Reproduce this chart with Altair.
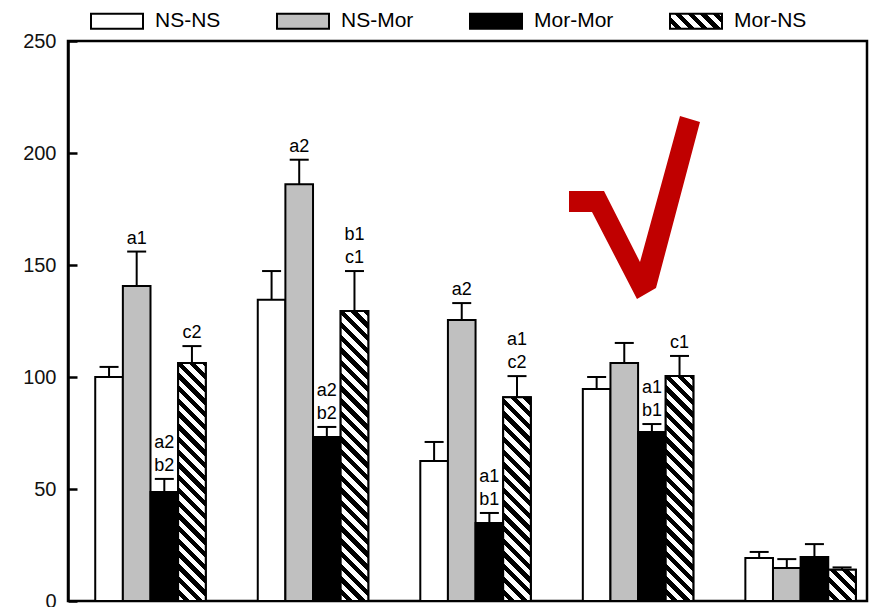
import math
import altair as alt
import pandas as pd

# ---------------- data ----------------
groups = ["G1", "G2", "G3", "G4", "G5"]
series = ["NS-NS", "NS-Mor", "Mor-Mor", "Mor-NS"]

ns_ns = [100.0, 134.5, 62.5, 94.6, 19.2]
ns_ns_err = [4.5, 12.8, 8.5, 5.4, 2.7]
ns_mor = [140.6, 186.0, 125.4, 106.3, 14.7]
ns_mor_err = [15.4, 11.0, 7.6, 8.9, 4.0]
mor_mor = [48.7, 73.2, 34.8, 75.4, 19.6]
mor_mor_err = [5.8, 4.5, 4.5, 3.6, 5.8]
mor_ns = [106.3, 129.5, 91.0, 100.4, 14.0]
mor_ns_err = [7.5, 17.8, 9.4, 9.0, 1.0]

ns_ns_lab = ["", "", "", "", ""]
ns_mor_lab = ["a1", "a2", "a2", "", ""]
mor_mor_lab = ["a2\nb2", "a2\nb2", "a1\nb1", "a1\nb1", ""]
mor_ns_lab = ["c2", "b1\nc1", "a1\nc2", "c1", ""]

y_ticks = [0, 50, 100, 150, 200, 250]

# red check mark outline (pixel polygon of the annotation)
check_poly = [(569, 191), (604, 191), (640, 262), (680, 116), (700, 122),
              (656, 288), (637, 299), (592, 212), (569, 212)]

# ---------------- layout ----------------
W, H = 799, 560
PAD_L, PAD_T = 68, 41
P_INNER, P_OUTER, ALIGN = 0.32, 0.118, 0.71
FONT = "Liberation Sans"

vals = [ns_ns, ns_mor, mor_mor, mor_ns]
errs = [ns_ns_err, ns_mor_err, mor_mor_err, mor_ns_err]
labs = [ns_ns_lab, ns_mor_lab, mor_mor_lab, mor_ns_lab]
rows = []
for s, v, e, l in zip(series, vals, errs, labs):
    for g, vv, ee, ll in zip(groups, v, e, l):
        parts = ll.split("\n") if ll else []
        line2 = parts[-1] if parts else ""
        line1 = parts[0] if len(parts) > 1 else ""
        rows.append({"group": g, "series": s, "value": vv, "top": vv + ee,
                     "line1": line1, "line2": line2})
df = pd.DataFrame(rows)

step = W / (len(groups) - P_INNER + 2 * P_OUTER)
bar_w = step * (1 - P_INNER) / len(series)


def hatch_params(w, h, period=9.0):
    t = (1 / h + 1 / w) / (1 / h ** 2 + 1 / w ** 2)
    x2, y2 = t / h, 1 - t / w
    L = (w + h) / math.sqrt(2)
    p = period / L
    stops = []
    k = 0
    while k * p < 1:
        a = k * p
        b = min((k + 0.5) * p, 1)
        c = min((k + 1) * p, 1)
        stops += [(a, "white"), (b, "white"), (b, "black"), (c, "black")]
        k += 1
    return x2, y2, stops


def gradient(w, h):
    x2, y2, stops = hatch_params(w, h)
    return alt.LinearGradient(
        gradient="linear", x1=0, y1=1, x2=x2, y2=y2,
        stops=[alt.GradientStop(offset=o, color=c) for o, c in stops])


def gradient_expr(w, h):
    x2, y2, stops = hatch_params(w, h)
    st = ",".join("{offset:%.4f,color:'%s'}" % (o, c) for o, c in stops)
    return "{gradient:'linear',x1:0,y1:1,x2:%.4f,y2:%.4f,stops:[%s]}" % (x2, y2, st)


x_enc = alt.X("group:N", axis=None, sort=groups,
              scale=alt.Scale(domain=groups, paddingInner=P_INNER,
                              paddingOuter=P_OUTER, align=ALIGN))
xo_enc = alt.XOffset("series:N", sort=series,
                     scale=alt.Scale(domain=series, paddingInner=0, paddingOuter=0))
y_scale = alt.Scale(domain=[0, 250], nice=False, zero=True)

SWATCH = "M-1,-0.2885H1V0.2885H-1Z"

base = alt.Chart(df)

# y axis: labels outside; short inward ticks drawn as dashed grid stubs
bars = base.mark_bar(stroke="black", strokeWidth=2, opacity=1).encode(
    x=x_enc,
    xOffset=xo_enc,
    y=alt.Y("value:Q", scale=y_scale, title=None,
            axis=alt.Axis(values=y_ticks, ticks=False, grid=True,
                          gridColor="black", gridWidth=2.5, gridDash=[9, 2000],
                          gridOpacity=1,
                          domain=True, domainColor="black", domainWidth=2.5,
                          labelFont=FONT, labelFontSize=20, labelColor="#111",
                          labelPadding=12)),
    fill=alt.Fill("series:N", sort=series,
                  scale=alt.Scale(domain=series,
                                  range=["white", "#c0c0c0", "black",
                                         {"expr": gradient_expr(52, 15)}]),
                  legend=alt.Legend(title=None, orient="none", legendX=22, legendY=-47,
                                    direction="horizontal", columns=4,
                                    symbolType=SWATCH, symbolSize=2704,
                                    symbolStrokeColor="black", symbolStrokeWidth=2,
                                    labelFont=FONT, labelFontSize=21, labelColor="black",
                                    labelOffset=11, columnPadding=52, padding=0,
                                    labelLimit=0)),
)

layers = [bars]

# hatched overlays, one per Mor-NS bar (stripe angle depends on bar shape)
for g, v in zip(groups, mor_ns):
    h_px = v * H / 250.0
    layers.append(
        alt.Chart(df[(df.series == "Mor-NS") & (df.group == g)])
        .mark_bar(stroke="black", strokeWidth=2, fill=gradient(bar_w, h_px))
        .encode(x=x_enc, xOffset=xo_enc, y=alt.Y("value:Q", scale=y_scale))
    )

err_rule = base.mark_rule(color="black", strokeWidth=2).encode(
    x=x_enc, xOffset=xo_enc, y=alt.Y("value:Q", scale=y_scale), y2="top:Q")
err_cap = base.mark_tick(color="black", size=19, thickness=2, opacity=1).encode(
    x=x_enc, xOffset=xo_enc, y=alt.Y("top:Q", scale=y_scale))
txt2 = alt.Chart(df[df.line2 != ""]).mark_text(
    font=FONT, fontSize=18, color="black", baseline="bottom", dy=-4).encode(
    x=x_enc, xOffset=xo_enc, y=alt.Y("top:Q", scale=y_scale), text="line2:N")
txt1 = alt.Chart(df[df.line1 != ""]).mark_text(
    font=FONT, fontSize=18, color="black", baseline="bottom", dy=-27).encode(
    x=x_enc, xOffset=xo_enc, y=alt.Y("top:Q", scale=y_scale), text="line1:N")

# check mark as a custom symbol
xs = [p[0] for p in check_poly]
ys = [p[1] for p in check_poly]
cx, cy = (min(xs) + max(xs)) / 2, (min(ys) + max(ys)) / 2
R = max(max(xs) - min(xs), max(ys) - min(ys)) / 2
path = "M" + "L".join("%.4f,%.4f" % ((x - cx) / R, (y - cy) / R) for x, y in check_poly) + "Z"
check = alt.Chart(pd.DataFrame({"k": [1]})).mark_point(
    shape=path, filled=True, fill="#c00000", size=(2 * R) ** 2, opacity=1
).encode(x=alt.value(cx - PAD_L), y=alt.value(cy - PAD_T))

layers += [err_rule, err_cap, txt2, txt1, check]

chart = alt.layer(*layers).properties(
    width=W, height=H,
    background="white",
    autosize=alt.AutoSizeParams(type="none"),
    padding={"left": PAD_L, "top": PAD_T, "right": 6, "bottom": 6},
).configure_view(stroke="black", strokeWidth=2.5)

chart.save("out.html", embed_options={"renderer": "svg", "actions": False})
